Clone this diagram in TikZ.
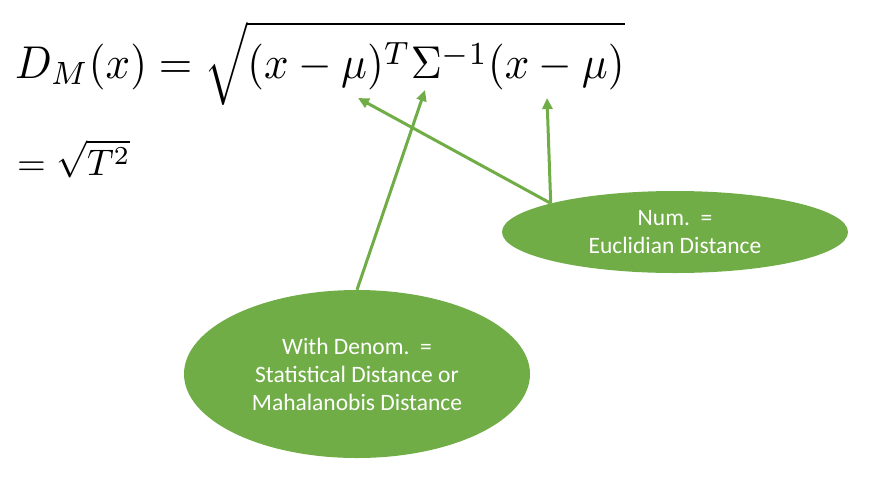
\documentclass[tikz,border=0pt]{standalone}
\usepackage{amsmath}
\usepackage[no-math]{fontspec}
\setmainfont{Carlito}
\usepackage{tikz}
\usetikzlibrary{shapes.geometric, arrows.meta}
\definecolor{leafgreen}{HTML}{70AD47}

\begin{document}
\begin{tikzpicture}[x=1pt, y=-1pt,
    blob/.style = {ellipse, fill=leafgreen, text=white, inner sep=0pt,
        minimum width=346pt, align=center,
        font=\fontsize{23.5}{28}\selectfont},
    pointer/.style = {draw=leafgreen, line width=3pt,
        -{Triangle[length=11pt, width=10pt]}}]

\useasboundingbox (0,0) rectangle (882,483);

% Distance formula
\node[anchor=base west, inner sep=0pt] (dist) at (15,78)
    {\scalebox{4.3}[4.6]{$D_M(x) = \sqrt{\vphantom{\big(}(x-\mu)^T\Sigma^{-1}(x-\mu)}$}};

% Second line
\node[anchor=base west, inner sep=0pt] (tsq) at (17,175)
    {\scalebox{3.7}{$= \sqrt{T^2}$}};

% Ellipses
\node[blob, minimum height=168pt] (denom) at (357,374)
    {With Denom.\ \ =\\Statistical Distance or\\Mahalanobis Distance};
\node[blob, minimum height=82pt] (num) at (675,232)
    {Num.\ \ =\\Euclidian Distance};

% Arrow tips
\coordinate (mu1) at (358,98);
\coordinate (sig) at (425,90);
\coordinate (mu2) at (547,98);

% Arrows
\draw[pointer] (denom.north) -- (sig);
\draw[pointer] (num.167) -- (mu1);
\draw[pointer] (num.167) -- (mu2);
\end{tikzpicture}
\end{document}
